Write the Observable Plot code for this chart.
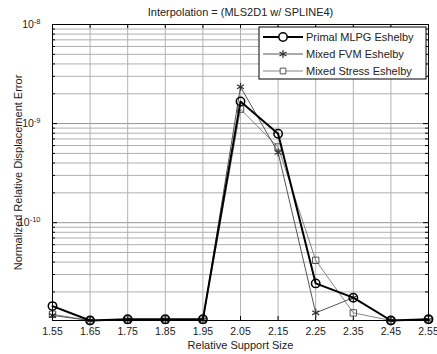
<!DOCTYPE html>
<html><head><meta charset="utf-8">
<script src="https://cdn.jsdelivr.net/npm/d3@7"></script>
<script src="https://cdn.jsdelivr.net/npm/@observablehq/plot@0.6"></script>
<style>
body{margin:0;background:#fff;}
#chart svg{font-family:"Liberation Sans",Arial,sans-serif;}
</style>
</head><body><div id="chart"></div>
<script>
// ---- data ----
const supportSize = [1.55, 1.65, 1.75, 1.85, 1.95, 2.05, 2.15, 2.25, 2.35, 2.45, 2.55];
const xTickLabels = ["1.55","1.65","1.75","1.85","1.95","2.05","2.15","2.25","2.35","2.45","2.55"];
const primalMLPG  = [1.44e-11, 1.03e-11, 1.06e-11, 1.06e-11, 1.06e-11, 1.67e-9, 7.9e-10, 2.44e-11, 1.75e-11, 1.03e-11, 1.06e-11];
const mixedFVM    = [1.16e-11, 1.03e-11, 1.04e-11, 1.04e-11, 1.04e-11, 2.35e-9, 5.1e-10, 1.23e-11, 1.75e-11, 1.03e-11, 1.04e-11];
const mixedStress = [1.19e-11, 1.03e-11, 1.04e-11, 1.04e-11, 1.04e-11, 1.40e-9, 5.8e-10, 4.17e-11, 1.23e-11, 1.03e-11, 1.05e-11];
const seriesNames = ["Primal MLPG Eshelby", "Mixed FVM Eshelby", "Mixed Stress Eshelby"];
const yTicks = [1e-10, 1e-9, 1e-8];
const yTickExponents = ["-10", "-9", "-8"];
const titleText = "Interpolation = (MLS2D1 w/ SPLINE4)";
const xLabel = "Relative Support Size";
const yLabel = "Normalized Relative Displacement Error";
const yDomain = [1.03e-11, 1e-8];

// ---- derived tables ----
const rows = supportSize.map((x, i) => ({x, primal: primalMLPG[i], fvm: mixedFVM[i], stress: mixedStress[i]}));
const minorGrid = [];
for (const e of [-11, -10, -9]) for (let m = 2; m <= 9; m++) {
  const v = m * Math.pow(10, e);
  if (v > yDomain[0] && v < yDomain[1]) minorGrid.push(v);
}

const W = 437, H = 354;
const mL = 52, mR = 9, mT = 24, mB = 34;
const fw = W - mL - mR, fh = H - mT - mB;

const styles = [
  {key: "primal", stroke: "#000", sw: 2, symbol: "circle", r: 4.2, dotStroke: "#000", dotSw: 1.5},
  {key: "fvm", stroke: "#555", sw: 1, symbol: "asterisk", r: 3.8, dotStroke: "#333", dotSw: 1.2},
  {key: "stress", stroke: "#777", sw: 0.9, symbol: "square", r: 3.6, dotStroke: "#555", dotSw: 1}
];

const lineMarks = [];
for (const s of [styles[2], styles[1], styles[0]]) {
  lineMarks.push(Plot.line(rows, {x: "x", y: s.key, stroke: s.stroke, strokeWidth: s.sw}));
  lineMarks.push(Plot.dot(rows, {x: "x", y: s.key, symbol: () => s.symbol, r: s.r, stroke: s.dotStroke, strokeWidth: s.dotSw, fill: "none"}));
}

const chart = Plot.plot({
  width: W, height: H,
  marginLeft: mL, marginRight: mR, marginTop: mT, marginBottom: mB,
  style: {fontFamily: '"Liberation Sans", Arial, sans-serif', fontSize: "10.5px", background: "#fff"},
  x: {domain: [1.55, 2.55]},
  y: {type: "log", domain: yDomain},
  symbol: {type: "identity"},
  marks: [
    Plot.ruleY(minorGrid, {stroke: "#9a9a9a", strokeWidth: 0.8}),
    Plot.ruleY(yTicks, {stroke: "#888", strokeWidth: 0.9}),
    Plot.ruleX(supportSize, {stroke: "#aaa", strokeWidth: 0.9}),
    // inward ticks
    Plot.tickX(supportSize, {x: d => d, stroke: "#000", insetTop: fh - 4}),
    Plot.tickX(supportSize, {x: d => d, stroke: "#000", insetBottom: fh - 4}),
    Plot.tickY(yTicks, {y: d => d, stroke: "#000", insetRight: fw - 5}),
    Plot.tickY(yTicks, {y: d => d, stroke: "#000", insetLeft: fw - 5}),
    Plot.tickY(minorGrid, {y: d => d, stroke: "#000", insetRight: fw - 3}),
    Plot.tickY(minorGrid, {y: d => d, stroke: "#000", insetLeft: fw - 3}),
    ...lineMarks,
    Plot.frame({stroke: "#000", strokeWidth: 1}),
    Plot.axisX({anchor: "bottom", ticks: supportSize, tickFormat: (d, i) => xTickLabels[i], tickSize: 0, tickPadding: 7,
      label: xLabel, labelAnchor: "center", labelArrow: "none", labelOffset: 28, fontSize: 10.5, color: "#222"}),
    Plot.axisY({anchor: "left", ticks: yTicks, tickFormat: () => "10", tickSize: 0, tickPadding: 12,
      label: yLabel, labelAnchor: "center", labelArrow: "none", labelOffset: 38, fontSize: 10.5, color: "#222"}),
    Plot.text([titleText], {text: d => d, frameAnchor: "top", dy: -12, lineAnchor: "middle", fontSize: 11, fill: "#222"})
  ]
});
document.getElementById("chart").appendChild(chart);

const svg = d3.select(chart);
// superscript exponents on y tick labels
svg.selectAll('g[aria-label="y-axis tick label"] text').each(function(d, i) {
  const t = d3.select(this);
  t.text("10");
  t.append("tspan").attr("dy", "-0.55em").attr("font-size", "7.5px").text(yTickExponents[i]);
});
svg.selectAll('g[aria-label="y-axis label"] text, g[aria-label="x-axis label"] text').attr("font-size", "11px");

// legend
const lg = svg.append("g").attr("font-family", '"Liberation Sans", Arial, sans-serif').attr("font-size", "11px").attr("text-anchor", "start");
const lx = 259, ly = 27, lw = 167, lh = 52;
lg.append("rect").attr("x", lx).attr("y", ly).attr("width", lw).attr("height", lh).attr("fill", "#fff").attr("stroke", "#000").attr("stroke-width", 1);
styles.forEach((s, i) => {
  const cy = ly + 10 + i * 17;
  lg.append("line").attr("x1", lx + 4).attr("x2", lx + 44).attr("y1", cy).attr("y2", cy).attr("stroke", s.stroke).attr("stroke-width", s.sw);
  const sym = {circle: d3.symbolCircle, asterisk: d3.symbolAsterisk, square: d3.symbolSquare}[s.symbol];
  const area = s.symbol === "square" ? Math.PI * s.r * s.r * 0.8 : Math.PI * s.r * s.r;
  lg.append("path").attr("d", d3.symbol(sym, area)()).attr("transform", `translate(${lx + 24},${cy})`)
    .attr("fill", "#fff").attr("stroke", s.dotStroke).attr("stroke-width", s.dotSw);
  lg.append("text").attr("x", lx + 47).attr("y", cy).attr("dy", "0.35em").attr("text-anchor", "start").attr("fill", "#222").text(seriesNames[i]);
});
</script>
</body></html>
